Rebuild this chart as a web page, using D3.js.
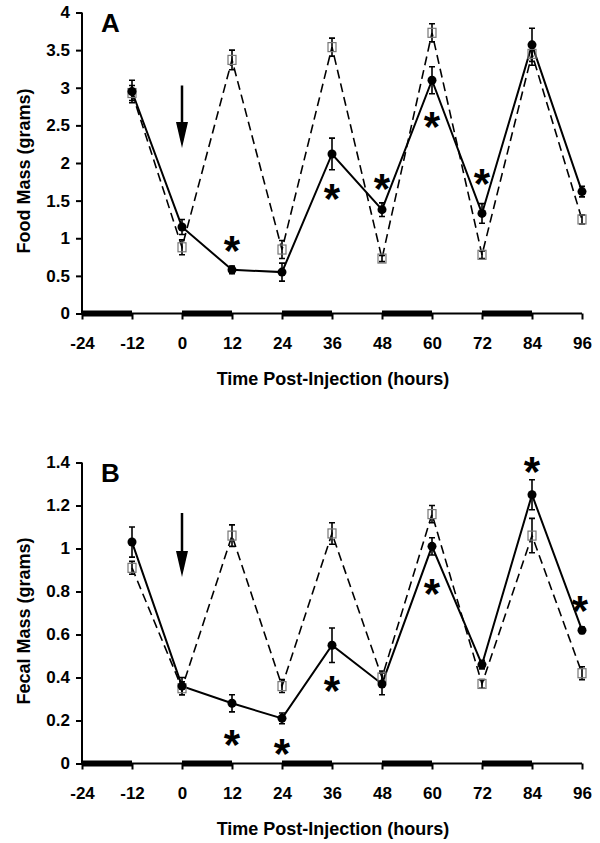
<!DOCTYPE html>
<html><head><meta charset="utf-8">
<script src="https://cdn.jsdelivr.net/npm/d3@7"></script>
<style>
html,body{margin:0;padding:0;background:#fff;}
svg text{font-family:"Liberation Sans",Arial,sans-serif;font-weight:bold;}
</style></head>
<body><svg id="c" width="600" height="843"></svg>
<script>
// ---- data ----
const times = [-12, 0, 12, 24, 36, 48, 60, 72, 84, 96];
const xTicks = [-24, -12, 0, 12, 24, 36, 48, 60, 72, 84, 96];
const xTickLabels = ["-24", "-12", "0", "12", "24", "36", "48", "60", "72", "84", "96"];
const darkBars = [[-24, -12], [0, 12], [24, 36], [48, 60], [72, 84]];

// Panel A: Food mass
const foodSolid    = [2.95, 1.15, 0.58, 0.55, 2.12, 1.38, 3.10, 1.33, 3.57, 1.62];
const foodSolidErr = [0.15, 0.10, 0.05, 0.12, 0.21, 0.09, 0.18, 0.13, 0.22, 0.07];
const foodDash     = [2.93, 0.88, 3.37, 0.85, 3.54, 0.73, 3.73, 0.78, 3.45, 1.25];
const foodDashErr  = [0.10, 0.10, 0.13, 0.12, 0.12, 0.04, 0.12, 0.05, 0.15, 0.06];
const foodYTicks   = [0, 0.5, 1, 1.5, 2, 2.5, 3, 3.5, 4];
const foodYLabels  = ["0", "0.5", "1", "1.5", "2", "2.5", "3", "3.5", "4"];
const foodStars    = [[12, 0.95], [36, 1.64], [48, 1.77], [60, 2.60], [72, 1.84]];
const foodArrow    = [3.03, 2.20];

// Panel B: Fecal mass
const fecalSolid    = [1.03, 0.36, 0.28, 0.21, 0.55, 0.37, 1.01, 0.46, 1.25, 0.62];
const fecalSolidErr = [0.07, 0.04, 0.04, 0.025, 0.08, 0.05, 0.04, 0.02, 0.07, 0.015];
const fecalDash     = [0.91, 0.35, 1.06, 0.36, 1.07, 0.40, 1.16, 0.37, 1.06, 0.42];
const fecalDashErr  = [0.03, 0.03, 0.05, 0.03, 0.05, 0.03, 0.04, 0.02, 0.08, 0.03];
const fecalYTicks   = [0, 0.2, 0.4, 0.6, 0.8, 1, 1.2, 1.4];
const fecalYLabels  = ["0", "0.2", "0.4", "0.6", "0.8", "1", "1.2", "1.4"];
const fecalStars    = [[12, 0.13], [24, 0.085], [36, 0.38], [60, 0.83], [84, 1.40], [95.5, 0.75]];
const fecalArrow    = [1.165, 0.868];

const svg = d3.select("#c");
const x = d3.scaleLinear().domain([-24, 96]).range([82, 582]);

function panel(cfg) {
  const y = d3.scaleLinear().domain([0, cfg.ymax]).range([cfg.y0, cfg.y1]);
  const g = svg.append("g");

  // dark (night) bars on x axis
  g.selectAll("rect.bar").data(darkBars).join("rect")
    .attr("x", d => x(d[0])).attr("width", d => x(d[1]) - x(d[0]))
    .attr("y", y(0) - 3).attr("height", 6).attr("fill", "#000");

  // axes
  const yAxis = d3.axisLeft(y).tickValues(cfg.yTicks).tickSize(6).tickPadding(6)
    .tickFormat((d, i) => cfg.yLabels[i]);
  const ya = g.append("g").attr("transform", `translate(${x(-24)},0)`).call(yAxis);
  const xAxis = d3.axisBottom(x).tickValues(xTicks).tickSize(6).tickPadding(17)
    .tickFormat((d, i) => xTickLabels[i]);
  const xa = g.append("g").attr("transform", `translate(0,${y(0)})`).call(xAxis);
  [ya, xa].forEach(a => {
    a.select(".domain").attr("stroke", "#000").attr("stroke-width", 2);
    a.selectAll(".tick line").attr("stroke", "#000").attr("stroke-width", 2);
    a.selectAll(".tick text").attr("font-size", 17).attr("fill", "#000")
      .style("font-family", '"Liberation Sans",Arial,sans-serif').style("font-weight", "bold");
  });
  ya.select(".domain").attr("d", `M-0,${cfg.y0}V${cfg.y1}`);
  xa.select(".domain").attr("d", `M${x(-24)},0H${x(96)}`);

  const pts = (vals) => times.map((t, i) => [t, vals[i]]);
  const line = d3.line().x(d => x(d[0])).y(d => y(d[1]));

  g.append("path").attr("d", line(pts(cfg.dash))).attr("fill", "none")
    .attr("stroke", "#000").attr("stroke-width", 1.6).attr("stroke-dasharray", "9,5");
  g.append("path").attr("d", line(pts(cfg.solid))).attr("fill", "none")
    .attr("stroke", "#000").attr("stroke-width", 2);

  function errBars(vals, errs) {
    const d = times.map((t, i) => ({t, v: vals[i], e: errs[i]}));
    const eg = g.append("g").attr("stroke", "#000").attr("stroke-width", 1.6);
    eg.selectAll("path").data(d).join("path").attr("fill", "none")
      .attr("d", p => {
        const cx = x(p.t), t = y(p.v + p.e), b = y(p.v - p.e);
        return `M${cx - 3},${t}H${cx + 3}M${cx},${t}V${b}M${cx - 3},${b}H${cx + 3}`;
      });
  }
  errBars(cfg.dash, cfg.dashErr);
  errBars(cfg.solid, cfg.solidErr);

  g.selectAll("rect.sq").data(pts(cfg.dash)).join("rect").attr("class", "sq")
    .attr("x", d => x(d[0]) - 4).attr("y", d => y(d[1]) - 4.5)
    .attr("width", 8).attr("height", 9)
    .attr("fill", "none").attr("stroke", "#777").attr("stroke-width", 1.2);
  g.selectAll("circle.pt").data(pts(cfg.solid)).join("circle").attr("class", "pt")
    .attr("cx", d => x(d[0])).attr("cy", d => y(d[1])).attr("r", 4.5).attr("fill", "#000");

  // significance asterisks
  g.selectAll("text.star").data(cfg.stars).join("text").attr("class", "star")
    .attr("x", d => x(d[0])).attr("y", d => y(d[1]) + 23)
    .attr("text-anchor", "middle").attr("font-size", 42).attr("fill", "#000").text("*");

  // injection arrow
  const ax = x(0), at = y(cfg.arrow[0]), ab = y(cfg.arrow[1]);
  g.append("line").attr("x1", ax).attr("x2", ax).attr("y1", at).attr("y2", ab - 20)
    .attr("stroke", "#000").attr("stroke-width", 2.5);
  g.append("path").attr("d", `M${ax - 6},${ab - 26}L${ax + 6},${ab - 26}L${ax},${ab}Z`).attr("fill", "#000");

  // panel letter
  g.append("text").attr("x", 101).attr("y", cfg.y1 + 19).attr("font-size", 26).text(cfg.letter);

  // axis titles
  g.append("text").attr("x", x(36) + 1).attr("y", y(0) + 71).attr("text-anchor", "middle")
    .attr("font-size", 18).text("Time Post-Injection (hours)");
  g.append("text").attr("transform", `translate(30,${(cfg.y0 + cfg.y1) / 2 + 8}) rotate(-90)`)
    .attr("text-anchor", "middle").attr("font-size", 18).text(cfg.ylabel);
}

panel({ymax: 4, y0: 313.5, y1: 12.5, yTicks: foodYTicks, yLabels: foodYLabels, solid: foodSolid, solidErr: foodSolidErr,
  dash: foodDash, dashErr: foodDashErr, stars: foodStars, arrow: foodArrow, letter: "A", ylabel: "Food Mass (grams)"});
panel({ymax: 1.4, y0: 763.5, y1: 462.5, yTicks: fecalYTicks, yLabels: fecalYLabels, solid: fecalSolid, solidErr: fecalSolidErr,
  dash: fecalDash, dashErr: fecalDashErr, stars: fecalStars, arrow: fecalArrow, letter: "B", ylabel: "Fecal Mass (grams)"});
</script></body></html>
